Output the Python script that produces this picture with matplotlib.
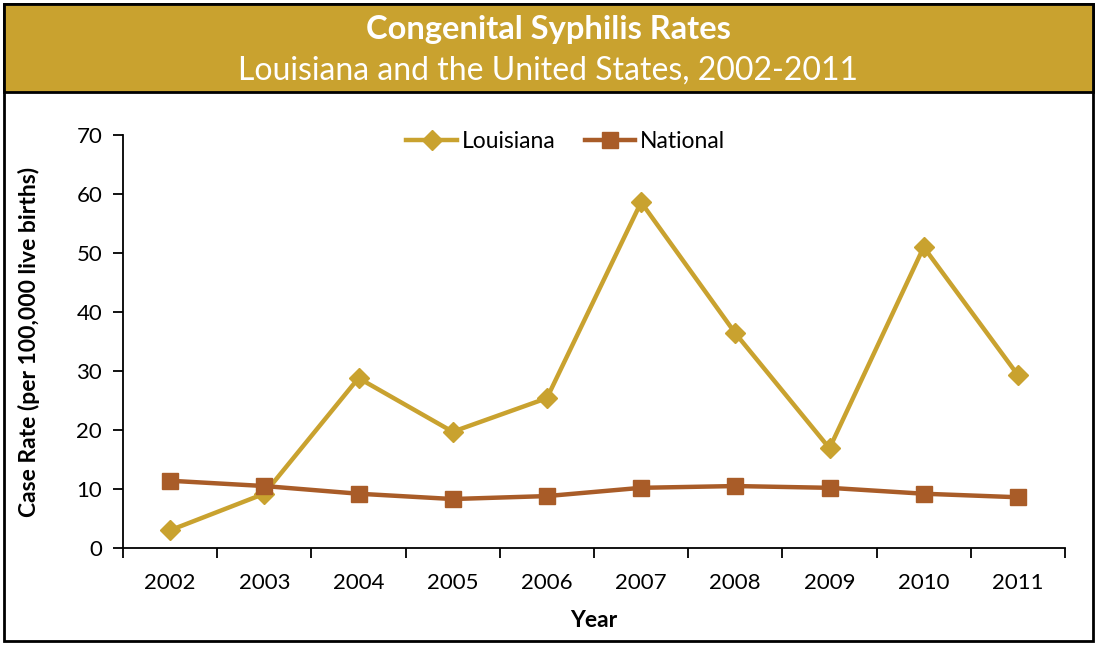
import matplotlib
matplotlib.use("Agg")
import matplotlib.pyplot as plt
from matplotlib.patches import Rectangle

years = ["2002", "2003", "2004", "2005", "2006", "2007", "2008", "2009", "2010", "2011"]
louisiana = [3.0, 9.2, 28.8, 19.7, 25.4, 58.6, 36.4, 16.9, 51.0, 29.3]
national = [11.4, 10.5, 9.2, 8.3, 8.8, 10.2, 10.5, 10.2, 9.2, 8.6]
y_ticks = [0, 10, 20, 30, 40, 50, 60, 70]

gold = "#C9A22F"
rust = "#A95C28"

plt.rcParams["font.family"] = ["Lato", "DejaVu Sans"]

W, H = 1097, 645
fig = plt.figure(figsize=(W / 100, H / 100), dpi=100)

def fx(px):
    return px / W

def fy(py):
    return 1 - py / H

# outer frame and header band
fig.patches.append(Rectangle((fx(4), fy(641)), fx(1093) - fx(4), fy(4) - fy(641),
                             transform=fig.transFigure, facecolor="white",
                             edgecolor="black", linewidth=2, zorder=-2))
fig.patches.append(Rectangle((fx(4), fy(92)), fx(1093) - fx(4), fy(4) - fy(92),
                             transform=fig.transFigure, facecolor=gold,
                             edgecolor="black", linewidth=2, zorder=-1))
fig.text(0.5, fy(30), "Congenital Syphilis Rates", ha="center", va="center",
         color="white", fontsize=23.5, fontweight="bold")
fig.text(0.5, fy(71), "Louisiana and the United States, 2002-2011", ha="center",
         va="center", color="white", fontsize=23)

ax = fig.add_axes([fx(123), fy(548), fx(1065) - fx(123), fy(135) - fy(548)])
ax.set_facecolor("none")
x = list(range(len(years)))
ax.plot(x, louisiana, color=gold, linewidth=3.2, marker="D", markersize=10,
        label="Louisiana", zorder=3)
ax.plot(x, national, color=rust, linewidth=3.2, marker="s", markersize=12,
        label="National", zorder=4)

ax.set_xlim(-0.5, len(years) - 0.5)
ax.set_ylim(0, 70)
ax.set_yticks(y_ticks)
ax.set_xticks([i - 0.5 for i in range(len(years) + 1)])
ax.set_xticklabels([])
ax.set_xticks(x, minor=True)
ax.set_xticklabels(years, minor=True)
ax.tick_params(axis="x", which="minor", length=0, pad=18, labelsize=16)
ax.tick_params(axis="x", which="major", length=7, width=1.3, direction="out")
ax.tick_params(axis="y", length=7, width=1.3, direction="out", labelsize=16, pad=8)
for side in ("top", "right"):
    ax.spines[side].set_visible(False)
for side in ("left", "bottom"):
    ax.spines[side].set_linewidth(1.3)

ax.set_xlabel("Year", fontsize=16.5, fontweight="bold", labelpad=12)
ax.set_ylabel("Case Rate (per 100,000 live births)", fontsize=16.5,
              fontweight="bold", labelpad=26)

ax.legend(loc="upper center", bbox_to_anchor=(0.47, 1.06), ncol=2, frameon=False,
          fontsize=16.5, handlelength=2.2, columnspacing=1.3, handletextpad=0.2)

fig.savefig("out.png", dpi=100)
